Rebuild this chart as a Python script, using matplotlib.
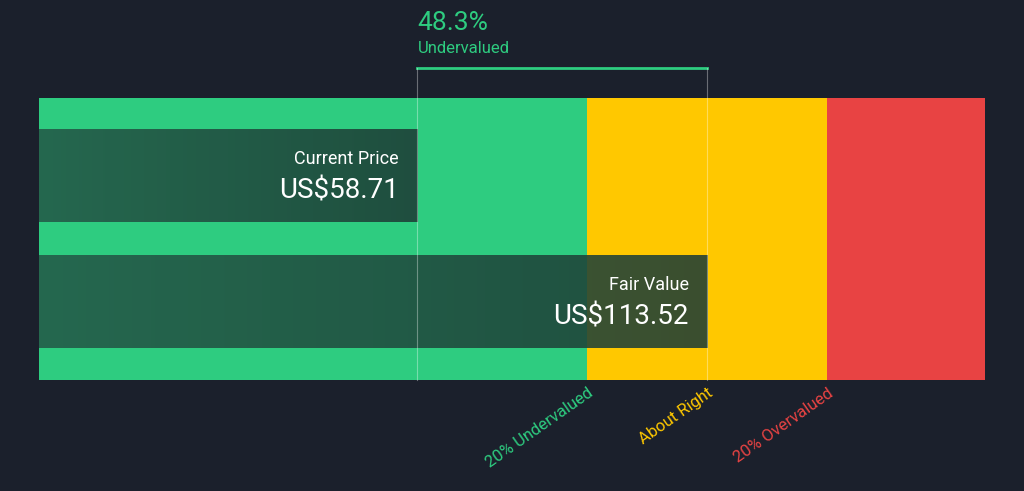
import numpy as np
import matplotlib.pyplot as plt
from matplotlib.patches import Rectangle
from matplotlib.colors import LinearSegmentedColormap

plt.rcParams['font.family'] = ['Roboto', 'DejaVu Sans']

current_price = 58.71
fair_value = 113.52
discount_label = "48.3%"
zone_labels = ["20% Undervalued", "About Right", "20% Overvalued"]
zone_colors = ["#2ecc80", "#ffc800", "#e84343"]
bg = "#1b202c"

x_min, x_max = -12.9, 166.1
low = fair_value * 0.8
high = fair_value * 1.2

fig = plt.figure(figsize=(10.24, 4.91), dpi=100, facecolor=bg)
ax = fig.add_axes([39 / 1024, 111 / 491, 946 / 1024, 282 / 491])
ax.set_facecolor(bg)
ax.set_xlim(x_min, x_max)
ax.set_ylim(0, 1)
ax.axis('off')

# zone bands
edges = [x_min, low, high, x_max]
for i in range(3):
    ax.add_patch(Rectangle((edges[i], 0), edges[i + 1] - edges[i], 1, color=zone_colors[i], lw=0))

# value bars with gradient
cmap = LinearSegmentedColormap.from_list("bar", ["#245a48", "#1e3d36"])
grad = np.linspace(0, 1, 256).reshape(1, -1)
bars = [(current_price, 0.56, 0.89), (fair_value, 0.113, 0.443)]
for val, y0, y1 in bars:
    rect = Rectangle((x_min, y0), val - x_min, y1 - y0, facecolor='none', lw=0)
    ax.add_patch(rect)
    im = ax.imshow(grad, extent=(x_min, val, y0, y1), aspect='auto', cmap=cmap, alpha=0.88, zorder=2)
    im.set_clip_path(rect)

ax.set_xlim(x_min, x_max)
ax.set_ylim(0, 1)

ax.text(current_price - 3.5, 0.785, "Current Price", color='white', fontsize=13, ha='right', va='center', zorder=3)
ax.text(current_price - 3.5, 0.67, f"US${current_price:.2f}", color='white', fontsize=20, ha='right', va='center', zorder=3)
ax.text(fair_value - 3.5, 0.338, "Fair Value", color='white', fontsize=13, ha='right', va='center', zorder=3)
ax.text(fair_value - 3.5, 0.222, f"US${fair_value:.2f}", color='white', fontsize=20, ha='right', va='center', zorder=3)

# top bracket
green = zone_colors[0]
ax.plot([current_price, fair_value], [1.106, 1.106], color=green, lw=2, clip_on=False)
for v in (current_price, fair_value):
    ax.plot([v, v], [0.0, 1.106], color='white', lw=0.8, alpha=0.35, clip_on=False, zorder=4)
ax.text(current_price, 1.265, discount_label, color=green, fontsize=19, ha='left', va='center', clip_on=False)
ax.text(current_price, 1.175, "Undervalued", color=green, fontsize=12, ha='left', va='center', clip_on=False)

# zone labels
for x, lab, c in zip([low, fair_value, high], zone_labels, zone_colors):
    ax.text(x, -0.02, lab, color=c, fontsize=12, rotation=35, ha='right', va='top',
            rotation_mode='anchor', clip_on=False)

fig.savefig("out.png", dpi=100, facecolor=bg)
